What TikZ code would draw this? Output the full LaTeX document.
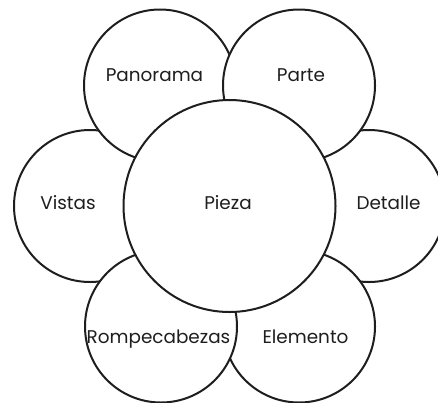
\documentclass[tikz,border=0pt]{standalone}
\usepackage{fontspec}
\setmainfont{Poppins}
\definecolor{ink}{HTML}{1E1E1E}
\tikzset{
  petal/.style={circle, draw=ink, line width=2pt, fill=white, inner sep=0pt, minimum size=152pt},
  core/.style={circle, draw=ink, line width=2pt, fill=white, inner sep=0pt, minimum size=212pt},
  lbl/.style={anchor=base, inner sep=0pt, text=ink, font=\fontsize{18.4}{22}\selectfont}
}
\begin{document}
\begin{tikzpicture}[x=1pt,y=-1pt]
\useasboundingbox (0,0) rectangle (438,402);
\clip (0,0) rectangle (438,402);
\node[petal] (vis) at (90,206) {};
\node[petal] (det) at (369,206) {};
\node[petal] (pan) at (160,85.5) {};
\node[petal] (par) at (299,85.5) {};
\node[petal] (ele) at (299,326.5) {};
\node[petal] (rom) at (161,326.5) {};
\node[core] (pie) at (229.5,206) {};
\node[lbl] (tpan) at (154.5,81) {Panorama};
\node[lbl] (tpar) at (301,81) {Parte};
\node[lbl] (tvis) at (68,209.3) {Vistas};
\node[lbl] (tpie) at (228,209.3) {Pieza};
\node[lbl] (tdet) at (388.5,209.3) {Detalle};
\node[lbl] (trom) at (158.5,343) {Rompecabezas};
\node[lbl] (tele) at (305.5,343) {Elemento};
\end{tikzpicture}
\end{document}
